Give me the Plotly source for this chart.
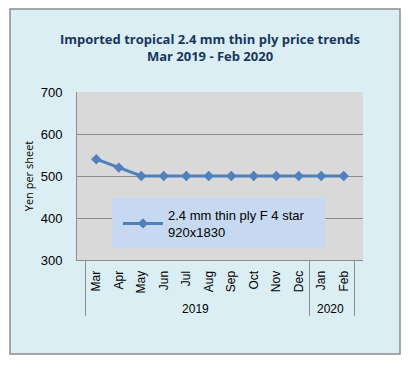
import plotly.graph_objects as go

months = ["Mar", "Apr", "May", "Jun", "Jul", "Aug", "Sep", "Oct", "Nov", "Dec", "Jan", "Feb"]
years = ["2019"] * 10 + ["2020"] * 2
prices = [540, 520, 500, 500, 500, 500, 500, 500, 500, 500, 500, 500]
series_name = "2.4 mm thin ply F 4 star<br>920x1830"
title_text = "Imported tropical 2.4 mm thin ply price trends<br>Mar 2019 - Feb 2020"
y_ticks = [300, 400, 500, 600, 700]

# page body has an 8px margin, so the figure is sized/positioned in page coords minus 8
OFF = 8
W, H = 412 - OFF, 371 - OFF
L, T = 77 - OFF, 92 - OFF
R = W - (363 - OFF)
B = H - (260 - OFF)
pw, ph = W - L - R, H - T - B

def px2x(p):
    return (p - OFF - L) / pw

def px2y(p):
    return (H - B - (p - OFF)) / ph

fig = go.Figure()
fig.add_trace(go.Scatter(
    x=[years, months], y=prices, name=series_name, mode="lines+markers",
    line=dict(color="#4F81BD", width=3),
    marker=dict(symbol="diamond", size=8, color="#4F81BD"),
    showlegend=True,
))

fig.update_layout(
    width=W, height=H,
    margin=dict(l=L, r=R, t=T, b=B, pad=0, autoexpand=False),
    paper_bgcolor="white",
    plot_bgcolor="rgba(0,0,0,0)",
    title=dict(text=title_text, x=0.5, xanchor="center", xref="container", y=1 - 36 / H, yanchor="top",
               font=dict(family="Open Sans", size=13, color="#17375E", weight="bold")),
    font=dict(family="Liberation Sans", color="#000000"),
    showlegend=True,
    legend=dict(x=px2x(118), y=px2y(200), xanchor="left", yanchor="top",
                bgcolor="rgba(0,0,0,0)", font=dict(family="Liberation Sans", size=13, color="#000000"),
                itemwidth=40),
    shapes=[
        dict(type="rect", xref="paper", yref="paper", x0=px2x(10), x1=px2x(400), y0=px2y(354), y1=px2y(9),
             fillcolor="#DAEEF3", line=dict(color="#8C8C8C", width=1.5), layer="below"),
        dict(type="rect", xref="paper", yref="paper", x0=0, x1=1, y0=0, y1=1,
             fillcolor="#D9D9D9", line=dict(width=0), layer="below"),
        dict(type="rect", xref="paper", yref="paper", x0=px2x(112), x1=px2x(325), y0=px2y(248), y1=px2y(198),
             fillcolor="#C6D9F1", line=dict(width=0), layer="above", opacity=1),
    ],
)

fig.update_yaxes(
    range=[300, 700], tickvals=y_ticks, showgrid=True, gridcolor="#8C8C8C", gridwidth=1,
    showline=True, linecolor="#8C8C8C", linewidth=1, zeroline=False, automargin=False,
    ticks="", ticklabelstandoff=11, tickfont=dict(family="Liberation Sans", size=13, color="#000000"),
    title=dict(text="Yen per sheet", font=dict(family="Open Sans", size=11, color="#000000"), standoff=4),
)
fig.update_xaxes(
    type="multicategory", showgrid=False, showline=True, linecolor="#8C8C8C", linewidth=1,
    automargin=False, ticklabelstandoff=5,
    tickangle=-90, tickfont=dict(family="Liberation Sans", size=12, color="#000000"),
    showdividers=True, dividercolor="#8C8C8C", dividerwidth=1, ticks="",
)

fig.write_html("out.html")
